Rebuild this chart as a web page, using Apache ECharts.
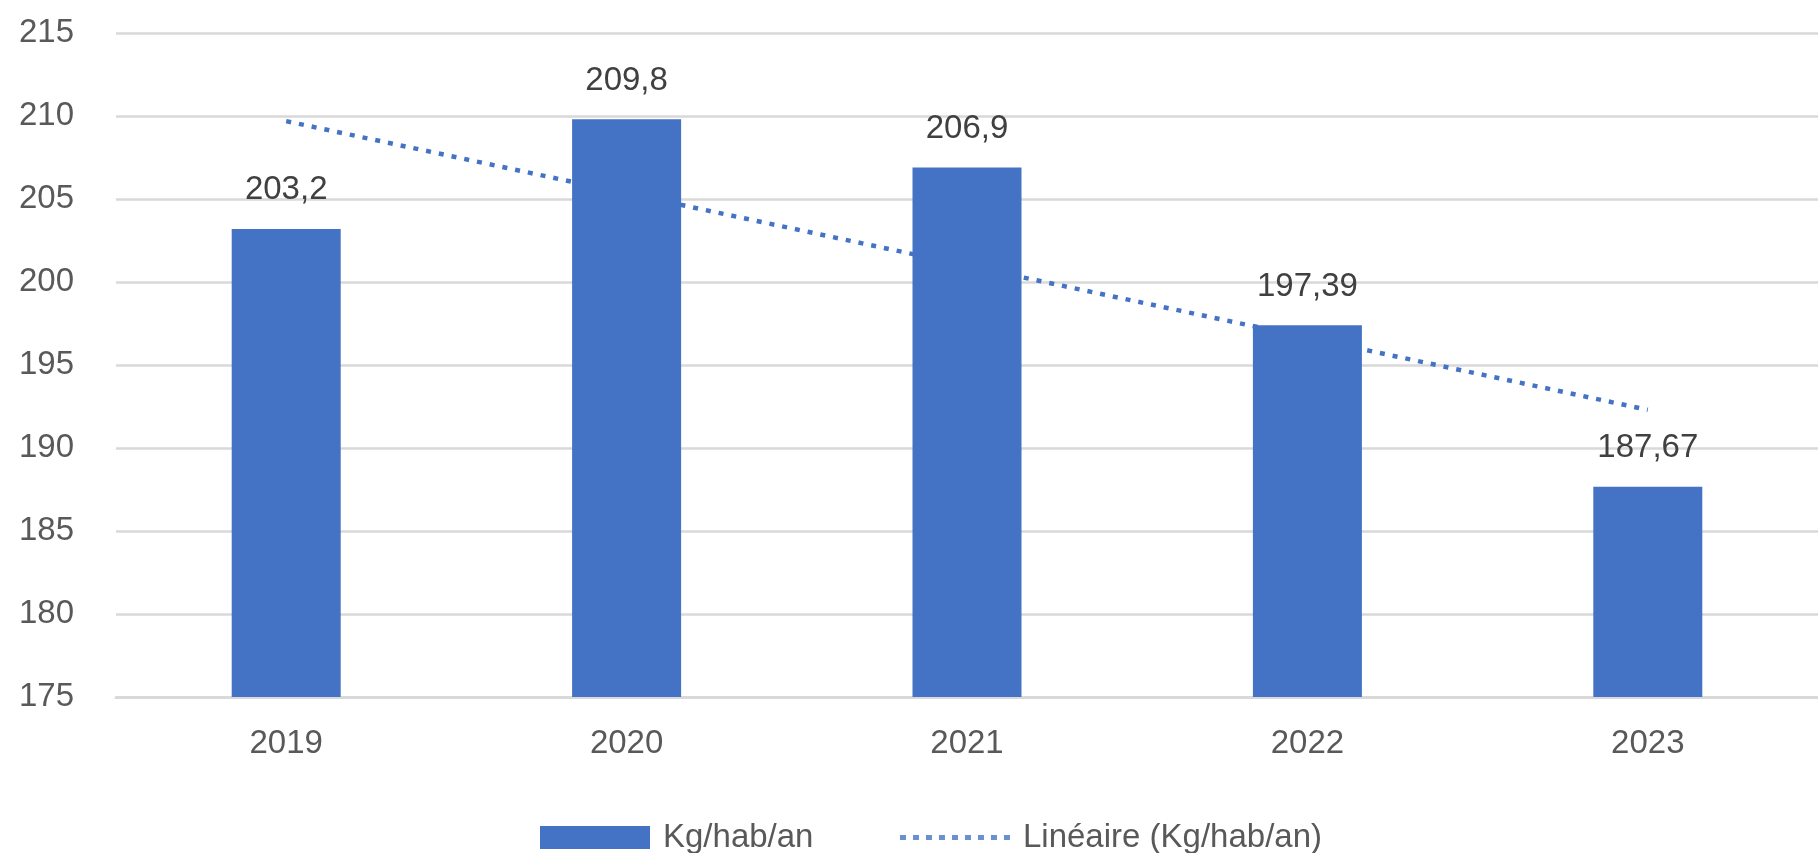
<!DOCTYPE html>
<html>
<head>
<meta charset="utf-8">
<script src="https://cdn.jsdelivr.net/npm/echarts@6/dist/echarts.min.js"></script>
<style>
html,body{margin:0;padding:0;background:#fff;}
#chart{width:1818px;height:853px;}
</style>
</head>
<body>
<div id="chart"></div>
<script>
const categories = ['2019', '2020', '2021', '2022', '2023'];
const barValues = [203.2, 209.8, 206.9, 197.39, 187.67];
const trendValues = [209.69, 205.34, 200.99, 196.65, 192.30];
const barName = 'Kg/hab/an';
const trendName = 'Linéaire (Kg/hab/an)';

const FONT = 'Liberation Sans';
const chart = echarts.init(document.getElementById('chart'));
chart.setOption({
  animation: false,
  backgroundColor: '#ffffff',
  grid: { left: 116, right: -18, top: 33, bottom: 156, containLabel: false },
  legend: {
    left: 535, top: 816,
    itemWidth: 110, itemHeight: 23, itemGap: 84,
    textStyle: { fontFamily: FONT, fontSize: 33, color: '#595959', padding: [0, 0, 0, 8] },
    data: [
      { name: barName, icon: 'rect' },
      { name: trendName, itemStyle: { opacity: 0 },
        lineStyle: { width: 5, type: [6, 7], color: '#6a8fd2', cap: 'butt' } }
    ]
  },
  xAxis: {
    type: 'category',
    data: categories,
    axisTick: { show: false },
    axisLine: { lineStyle: { color: '#d9d9d9', width: 3 } },
    axisLabel: { fontFamily: FONT, fontSize: 33, color: '#595959', margin: 30 }
  },
  yAxis: {
    type: 'value',
    min: 175, max: 215, interval: 5,
    axisLine: { show: false },
    axisTick: { show: false },
    splitLine: { lineStyle: { color: '#d9d9d9', width: 2.5 } },
    axisLabel: { fontFamily: FONT, fontSize: 33, color: '#595959', margin: 42 }
  },
  series: [
    {
      name: barName,
      type: 'bar',
      data: barValues,
      barWidth: 109,
      itemStyle: { color: '#4472C4' },
      label: {
        show: true, position: 'top', distance: 22,
        fontFamily: FONT, fontSize: 33, color: '#404040',
        formatter: p => String(p.value).replace('.', ',')
      },
      z: 2
    },
    {
      name: trendName,
      type: 'line',
      data: trendValues,
      symbol: 'none',
      lineStyle: { color: '#4472C4', width: 4.5, type: [5, 8], cap: 'butt' },
      itemStyle: { color: '#4472C4' },
      z: 3
    }
  ]
});
</script>
</body>
</html>
